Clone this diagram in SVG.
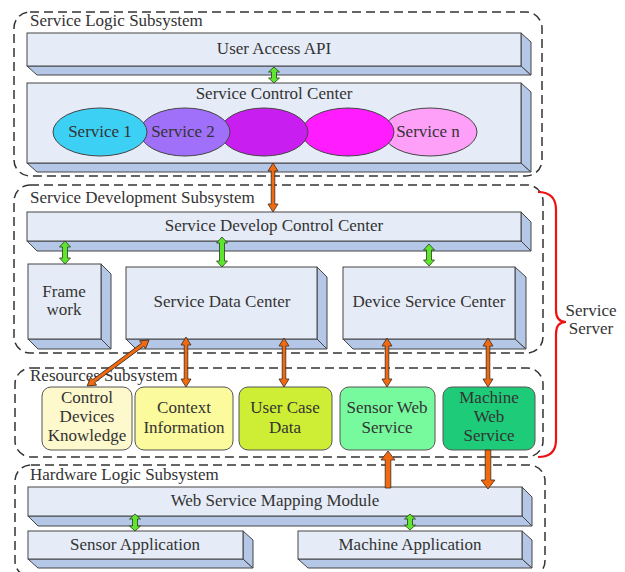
<svg xmlns="http://www.w3.org/2000/svg" width="625" height="572" viewBox="0 0 625 572" font-family="'Liberation Serif', 'Times New Roman', serif">
  <style>
    text { font-family: 'Liberation Serif', 'Times New Roman', Times, serif; font-size: 17px; fill: #333; }
    .c { text-anchor: middle; }
    .zone { fill: none; stroke: #333; stroke-width: 1.5; stroke-dasharray: 9 5; }
    .front { fill: #e6ecf7; stroke: #444; stroke-width: 1; }
    .depth { fill: #b4c7e7; stroke: #444; stroke-width: 1; stroke-linejoin: round; }
    .res { stroke: #555; stroke-width: 1; }
    .ell { stroke: #444; stroke-width: 1; }
    .orange { fill: #f26a10; stroke: #3a2a20; stroke-width: 0.8; stroke-linejoin: round; }
    .green { fill: #5ee62e; stroke: #2a3a20; stroke-width: 0.8; stroke-linejoin: round; }
    .brace { fill: none; stroke: #ee1111; stroke-width: 2.2; }
  </style>

  <rect width="625" height="572" fill="#ffffff"/>

  <!-- subsystem zones -->
  <g id="zones">
    <rect class="zone" x="14" y="12" width="528" height="164" rx="16"/>
    <rect class="zone" x="14" y="185" width="529" height="168" rx="16"/>
    <rect class="zone" x="15" y="368" width="528" height="89" rx="16"/>
    <rect class="zone" x="15" y="465" width="530" height="112" rx="16"/>
    <text x="30" y="26">Service Logic Subsystem</text>
    <text x="30" y="203">Service Development Subsystem</text>
    <text x="30" y="381">Resources Subsystem</text>
    <text x="30" y="480">Hardware Logic Subsystem</text>
  </g>

  <!-- Service Logic Subsystem -->
  <g id="user-access-api">
    <polygon class="depth" points="27,66 521,66 531,75 37,75"/>
    <polygon class="depth" points="521,33 531,42 531,75 521,66"/>
    <rect class="front" x="27" y="33" width="494" height="33"/>
    <text class="c" x="274" y="54">User Access API</text>
  </g>

  <g id="service-control-center">
    <polygon class="depth" points="27,163 521,163 531,172 37,172"/>
    <polygon class="depth" points="521,83 531,92 531,172 521,163"/>
    <rect class="front" x="27" y="83" width="494" height="80"/>
    <text class="c" x="274" y="99">Service Control Center</text>
  </g>

  <g id="services">
    <ellipse class="ell" cx="430" cy="132" rx="47" ry="24" fill="#ffa0f8"/>
    <ellipse class="ell" cx="348" cy="132" rx="46" ry="24" fill="#ff1cff"/>
    <ellipse class="ell" cx="264" cy="132" rx="44" ry="24" fill="#c81ff0"/>
    <ellipse class="ell" cx="185" cy="132" rx="45" ry="24" fill="#a070fa"/>
    <ellipse class="ell" cx="100" cy="132" rx="47" ry="24" fill="#3cd0f5"/>
    <text class="c" x="100" y="137">Service 1</text>
    <text class="c" x="183" y="137">Service 2</text>
    <text class="c" x="428" y="137">Service n</text>
  </g>

  <!-- Service Development Subsystem -->
  <g id="service-develop-control-center">
    <polygon class="depth" points="27,241 521,241 531,251 37,251"/>
    <polygon class="depth" points="521,212 531,222 531,251 521,241"/>
    <rect class="front" x="27" y="212" width="494" height="29"/>
    <text class="c" x="274" y="231">Service Develop Control Center</text>
  </g>

  <g id="framework">
    <polygon class="depth" points="28,339 101,339 111,349 38,349"/>
    <polygon class="depth" points="101,264 111,274 111,349 101,339"/>
    <rect class="front" x="28" y="264" width="73" height="75"/>
    <text class="c" x="64" y="297">Frame</text>
    <text class="c" x="64" y="315">work</text>
  </g>

  <g id="service-data-center">
    <polygon class="depth" points="126,339 317,339 327,349 136,349"/>
    <polygon class="depth" points="317,267 327,277 327,349 317,339"/>
    <rect class="front" x="126" y="267" width="191" height="72"/>
    <text class="c" x="222" y="307">Service Data Center</text>
  </g>

  <g id="device-service-center">
    <polygon class="depth" points="343,339 515,339 526,349 353,349"/>
    <polygon class="depth" points="515,267 526,277 526,349 515,339"/>
    <rect class="front" x="343" y="267" width="172" height="72"/>
    <text class="c" x="429" y="307">Device Service Center</text>
  </g>

  <!-- Resources Subsystem -->
  <g id="control-devices-knowledge">
    <rect class="res" x="42" y="387" width="90" height="63" rx="9" fill="#fdf9cc"/>
    <text class="c" x="87" y="403">Control</text>
    <text class="c" x="87" y="422">Devices</text>
    <text class="c" x="87" y="441">Knowledge</text>
  </g>
  <g id="context-information">
    <rect class="res" x="135" y="387" width="98" height="63" rx="9" fill="#fbfa9c"/>
    <text class="c" x="184" y="413">Context</text>
    <text class="c" x="184" y="433">Information</text>
  </g>
  <g id="user-case-data">
    <rect class="res" x="239" y="387" width="93" height="63" rx="9" fill="#cdee35"/>
    <text class="c" x="285" y="413">User Case</text>
    <text class="c" x="285" y="433">Data</text>
  </g>
  <g id="sensor-web-service">
    <rect class="res" x="340" y="387" width="95" height="63" rx="9" fill="#77fa9e"/>
    <text class="c" x="387" y="413">Sensor Web</text>
    <text class="c" x="387" y="433">Service</text>
  </g>
  <g id="machine-web-service">
    <rect class="res" x="443" y="387" width="92" height="63" rx="9" fill="#1ecb78"/>
    <text class="c" x="489" y="403">Machine</text>
    <text class="c" x="489" y="422">Web</text>
    <text class="c" x="489" y="441">Service</text>
  </g>

  <!-- Hardware Logic Subsystem -->
  <g id="web-service-mapping-module">
    <polygon class="depth" points="28,516 522,516 532,526 38,526"/>
    <polygon class="depth" points="522,487 532,497 532,526 522,516"/>
    <rect class="front" x="28" y="487" width="494" height="29"/>
    <text class="c" x="275" y="506">Web Service Mapping Module</text>
  </g>
  <g id="sensor-application">
    <polygon class="depth" points="28,559 243,559 253,568 38,568"/>
    <polygon class="depth" points="243,531 253,540 253,568 243,559"/>
    <rect class="front" x="28" y="531" width="215" height="28"/>
    <text class="c" x="135" y="550">Sensor Application</text>
  </g>
  <g id="machine-application">
    <polygon class="depth" points="298,559 522,559 532,568 308,568"/>
    <polygon class="depth" points="522,531 532,540 532,568 522,559"/>
    <rect class="front" x="298" y="531" width="224" height="28"/>
    <text class="c" x="410" y="550">Machine Application</text>
  </g>

  <!-- Service Server bracket -->
  <g id="service-server">
    <path class="brace" d="M538,192 Q556,192 556,210 L556,310 Q556,322 566,322 Q556,322 556,334 L556,440 Q556,457 538,457"/>
    <text class="c" x="591" y="316">Service</text>
    <text class="c" x="591" y="334">Server</text>
  </g>

  <!-- connectors -->
  <g id="connectors">
    <!-- green double arrows -->
    <path class="green" d="M274,67 L279.5,72 L276.5,72 L276.5,78 L279.5,78 L274,83 L268.5,78 L271.5,78 L271.5,72 L268.5,72 Z"/>
    <path class="green" d="M65,241 L70.5,247 L67.5,247 L67.5,258 L70.5,258 L65,264 L59.5,258 L62.5,258 L62.5,247 L59.5,247 Z"/>
    <path class="green" d="M222,237 L227.5,243 L224.5,243 L224.5,261 L227.5,261 L222,267 L216.5,261 L219.5,261 L219.5,243 L216.5,243 Z"/>
    <path class="green" d="M429,244 L434.5,250 L431.5,250 L431.5,260 L434.5,260 L429,266 L423.5,260 L426.5,260 L426.5,250 L423.5,250 Z"/>
    <path class="green" d="M135,514 L140.5,519 L137.5,519 L137.5,526 L140.5,526 L135,531 L129.5,526 L132.5,526 L132.5,519 L129.5,519 Z"/>
    <path class="green" d="M410,514 L415.5,519 L412.5,519 L412.5,525 L415.5,525 L410,530 L404.5,525 L407.5,525 L407.5,519 L404.5,519 Z"/>

    <!-- orange double arrows -->
    <path class="orange" d="M273,163 L278,171 L274.8,171 L274.8,204 L278,204 L273,212 L268,204 L271.2,204 L271.2,171 L268,171 Z"/>
    <path class="orange" transform="translate(149,340) rotate(53.4)" d="M0,0 L5,8 L1.8,8 L1.8,69 L5,69 L0,77 L-5,69 L-1.8,69 L-1.8,8 L-5,8 Z"/>
    <path class="orange" d="M186,337 L191,345 L187.8,345 L187.8,379 L191,379 L186,387 L181,379 L184.2,379 L184.2,345 L181,345 Z"/>
    <path class="orange" d="M284,338 L289,346 L285.8,346 L285.8,379 L289,379 L284,387 L279,379 L282.2,379 L282.2,346 L279,346 Z"/>
    <path class="orange" d="M387,338 L392,346 L388.8,346 L388.8,379 L392,379 L387,387 L382,379 L385.2,379 L385.2,346 L382,346 Z"/>
    <path class="orange" d="M488,338 L493,346 L489.8,346 L489.8,379 L493,379 L488,387 L483,379 L486.2,379 L486.2,346 L483,346 Z"/>

    <!-- orange single arrows -->
    <path class="orange" d="M388,451 L395,460 L390.8,460 L390.8,488 L385.2,488 L385.2,460 L381,460 Z"/>
    <path class="orange" d="M488,489 L495,480 L490.8,480 L490.8,450 L485.2,450 L485.2,480 L481,480 Z"/>
  </g>
</svg>
